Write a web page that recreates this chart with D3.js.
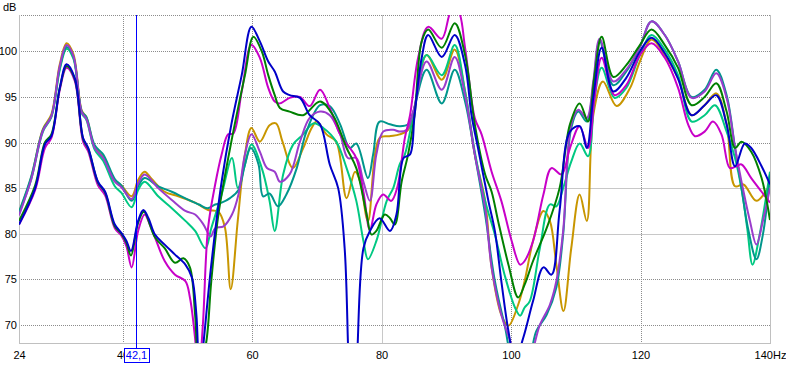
<!DOCTYPE html>
<html>
<head>
<meta charset="utf-8">
<script src="https://cdn.jsdelivr.net/npm/d3@7"></script>
<style>
  body { margin: 0; background: #fff; }
  text { font-family: "Liberation Sans", Arial, sans-serif; font-size: 11px; }
</style>
</head>
<body>
<div id="chart"></div>
<script>
// x ticks (Hz) and y ticks (dB)
const freqTicks = [24, 40, 60, 80, 100, 120, 140];
const dbTicks = [70, 75, 80, 85, 90, 95, 100];
const cursorHz = 42.1;

// measured curves, [Hz, dB]
const gold = [[24,82.3],[25.9,86.2],[27.7,91.5],[29,93.1],[30.3,98.6],[31.35,100.9],[32.4,99.7],[33.7,93.5],[34.4,92.8],[35.7,89.5],[37,88.4],[38.8,85.8],[39.8,85.3],[41.4,84.1],[42.4,85.9],[43.4,86.8],[44.5,86.0],[46.5,84.6],[48.6,84.1],[51.2,83.4],[53.2,82.6],[54.8,82.4],[55.8,80.7],[56.7,73.9],[57.8,81.5],[58.9,88.7],[59.9,91.6],[61.2,90.1],[62.7,91.9],[63.7,92.1],[64.7,90.1],[66.3,87.2],[67.9,89.4],[69.2,91.6],[70,92.3],[71.5,90.9],[73,90.1],[74.6,83.9],[75.9,86.8],[76.7,85.7],[77.9,81.4],[79.7,90.5],[81.2,90.7],[82.8,90.9],[84.1,91.4],[85.1,93.8],[86.95,99.6],[89.3,96.9],[91.3,100.2],[92.9,95.6],[94.4,88.7],[96,83.6],[97,76.3],[98.5,71.1],[99.6,69.9],[101.1,72.2],[102.1,74.8],[103.4,79.2],[105,82.5],[106,81.4],[107,76.6],[108.1,71.5],[109.3,78.4],[110.6,84.3],[111.7,81.4],[112.7,93],[114.2,96.7],[116.3,94],[118.4,96],[119.9,98.9],[121.7,101.3],[123.75,99.6],[125.8,97.1],[127.9,93],[129.9,94.1],[131.7,95.4],[133.3,92],[134.6,85.2],[135.9,85.4],[137.9,83.6],[140,85.4]];

const spring = [[24,82.2],[25.9,86],[27.7,91.2],[29,92.8],[30.3,98],[31.35,100.3],[32.4,99.2],[33.7,93.2],[34.4,92.5],[35.7,89.2],[37,88],[38.8,85.2],[39.8,84.5],[41.4,82.9],[42.4,84.8],[43.4,85.7],[45.5,84.1],[47.6,82.8],[49.7,81.4],[51.2,80.3],[52.8,78.4],[53.7,80.6],[55.3,84.3],[56.9,88.3],[57.8,85],[58.8,87.3],[59.9,89.8],[61.5,87.2],[62.7,83.6],[63.5,80.3],[64.8,86.5],[66.35,89.8],[67.9,90.9],[69.45,92.1],[71,91.6],[73,90.1],[74.6,87.2],[76.1,83.6],[77.2,79.2],[77.9,77.2],[79.2,79.2],[80.8,83.6],[81.8,85],[82.8,87.6],[83.6,88.7],[84.9,93],[86.95,99.6],[89.3,97.4],[91.3,100.7],[92.9,95.6],[94.4,89],[96,83.6],[97.5,79.9],[99,75.5],[100.6,71.9],[101.4,71],[102.1,71.9],[102.9,72.6],[104.45,78.4],[106,83.2],[107,83],[108.05,85],[109.3,87.9],[110.6,89.9],[111.9,88.5],[112.9,94.9],[114,98.2],[116,94.9],[117.8,96],[119.9,99.6],[121.7,101.8],[123.75,100.2],[125.8,97.4],[127.9,92.3],[129.9,93],[131.5,94.1],[133.3,91.2],[134.6,88.3],[135.7,84.5],[136.5,80.5],[137.3,76.6],[138.4,79.9],[140,86.8]];

const teal = [[24,82.4],[25.9,86.3],[27.7,91.4],[29,92.9],[30.3,98.2],[31.35,100.5],[32.4,99.4],[33.7,93.4],[34.4,92.8],[35.7,89.7],[37,88.7],[38.8,86],[39.8,85.3],[41.4,83.6],[42.4,85.2],[43.4,86.1],[45.5,85.2],[47.6,84.6],[50.2,83.7],[51.8,83.2],[53.1,82.8],[54.3,83.2],[55.3,83.4],[56.6,83.9],[57.9,84.8],[58.9,87.6],[59.8,89.4],[61,87.6],[61.7,84.1],[62.7,84.4],[64,83],[65.3,84.3],[66.9,87.2],[68.4,91.2],[70.5,94.1],[72,94],[73.6,92],[75.1,89.4],[76.1,89.9],[77.9,86.1],[78.7,88.7],[79.7,92.3],[81.3,92],[82.8,91.8],[84.1,92],[84.9,93.4],[86.95,98],[89.3,94.3],[91.3,98],[92.9,94.5],[94.4,88.7],[96,82.1],[97.5,74.8],[99,70],[100.5,66],[102.5,66],[103.9,69.3],[105.5,71.1],[107,74.1],[108.05,79.9],[109.3,91.6],[110.4,93.4],[111.7,92.3],[112.7,96.3],[113.7,101.1],[115.8,96.3],[117.8,97.8],[119.9,100.5],[121.7,103.3],[123.75,101.8],[125.8,98.9],[127.9,95],[129.9,95.8],[131.7,98],[133.3,95.2],[134.6,89.4],[135.6,85],[136.6,80.6],[137.9,77.2],[138.9,79.9],[140,86.5]];

const purple = [[24,82],[25.9,86],[27.7,91.3],[29,92.9],[30.3,98.4],[31.35,100.7],[32.4,99.5],[33.7,93.3],[34.4,92.6],[35.7,89.4],[37,88.3],[38.8,85.7],[39.8,85.1],[41.4,83.8],[42.4,85.5],[43.4,86.5],[45.5,85],[47.6,83.7],[49.7,82.5],[51.2,82.1],[52.5,81],[53.6,79.7],[54.3,80.6],[55.6,80.8],[56.9,82.1],[57.9,84.3],[58.9,88.7],[59.9,90.9],[61.2,89],[62.3,87.2],[63.5,86.8],[64.3,85.7],[65.8,86.5],[67.4,90.1],[68.9,92.7],[70.5,93.4],[72,93],[73.6,90.9],[74.8,88.3],[76.1,88.3],[77.2,85.7],[78.2,83.6],[79.2,88.7],[80.25,91.2],[81.8,91.4],[82.8,91.2],[83.9,91.4],[84.9,93.4],[86.95,98.9],[89.3,95.8],[91.3,99.4],[92.9,95.2],[94.4,88.7],[96,82.8],[97,76.3],[98.5,71.1],[99.8,68.4],[101,66],[102.8,66.5],[104.45,70],[106,72.2],[107,74.8],[108.05,80.3],[109.3,92],[110.4,93.6],[111.7,92.7],[112.7,96.7],[113.7,101.4],[115.8,96.7],[117.8,98],[119.9,100.5],[121.7,103.3],[123.75,101.8],[125.8,98.9],[127.9,94.9],[129.9,95.6],[131.7,97.6],[133.3,94.9],[134.6,89.4],[135.6,85.7],[136.9,81.4],[137.9,78.8],[138.9,81.4],[140,85]];

const magenta = [[24,81],[26.5,84.8],[28,89.4],[29,90.5],[30.3,95.8],[31.35,98.2],[32.6,96.8],[33.9,90.1],[34.7,89],[36.2,85.3],[37.3,84.2],[38.8,80.6],[39.8,79.8],[40.6,78.6],[41.4,76.3],[42.4,80.3],[43.4,82.1],[44.2,81],[45,79.6],[46.5,77],[48.1,75.5],[49.7,74.8],[50.4,73],[51.2,68.5],[51.7,64],[52.4,70],[53.2,80.6],[54.3,85.4],[55.3,88.7],[56.3,90.9],[57.1,91],[58.4,95.6],[59.9,100.7],[61.2,99.3],[62.5,96],[63.5,94.5],[64.3,94.3],[65.8,94.9],[67.4,95],[68.9,94],[70.5,95.8],[72,93.8],[73.6,90.9],[75.1,89.4],[76.1,88.3],[77.2,84.6],[78.2,80.4],[79.2,83.2],[80.25,84.3],[81.5,83.6],[82.4,85],[83.6,90.5],[84.4,93],[85.65,99.3],[87.2,102.7],[89.3,101.4],[90.8,104.5],[91.8,104.5],[92.9,100.4],[94.4,92.7],[95.45,90.9],[97,86.8],[98.5,83.6],[100.1,79.2],[101.4,76.6],[102.1,77],[103.4,79.2],[105,84.3],[106.25,87.2],[107.8,86.5],[109.1,89.4],[110.6,91.8],[111.9,89.4],[112.9,94.9],[114,99.3],[116,95.2],[117.8,96.3],[119.9,99.6],[121.7,100.9],[123.75,99.3],[125.8,96],[127.35,92],[128.4,90.7],[129.9,91.2],[131.2,92.3],[132.5,90.9],[133.8,87.2],[134.8,87.4],[135.6,87.6],[137.1,86.1],[138.7,84.6],[140,83.4]];

const green = [[24,81.4],[26.5,85.3],[28,90],[29,90.9],[30.3,96],[31.35,98.4],[32.6,97],[33.9,90.4],[34.7,89.3],[36.2,85.6],[37.3,84.5],[38.8,80.8],[39.8,80],[40.6,79],[41.3,77.6],[42.4,81.2],[43.3,82.4],[45,79.6],[46.5,78.4],[48.1,76.8],[49.4,77.3],[50.4,76.3],[51.2,71.1],[51.8,65],[52.9,68],[53.7,74.8],[54.8,82.1],[56.8,90.1],[58.9,97.4],[60.2,101.6],[61.5,100],[62.5,97.4],[63.5,95.2],[64.3,93.8],[65.8,93.4],[67.9,93],[70.5,94.5],[72.5,93],[74.6,89.4],[76.1,87.2],[77.7,82.1],[78.45,79.9],[79.2,80.3],[80.5,82.1],[81.3,81.7],[82.05,81],[83.1,85.7],[84.1,88.7],[85.1,93],[86.2,101.1],[87.2,102.4],[89.3,100.4],[91.3,103.1],[92.9,99.6],[94.4,92],[96,86.5],[97,84.6],[98,81.4],[99.6,76.6],[101.1,73],[102.1,74.4],[103.4,77],[105.5,80.6],[107.5,85],[109.1,92],[110.6,94.3],[111.9,92.3],[112.9,97.4],[114,101.6],[115.8,97.2],[117.8,98.5],[119.9,100.7],[121.7,102.4],[123.75,100.7],[125.8,98.2],[127.9,94.1],[129.9,95],[131.7,96.5],[133.3,93.4],[134.6,89.4],[135.6,90.1],[137.1,89],[138.7,86.1],[140,81.5]];

const blue = [[24,81],[26.5,85],[28,89.8],[29,90.7],[30.3,96],[31.35,98.6],[32.6,97.1],[33.9,90.5],[34.7,89.4],[36.2,85.7],[37.3,84.6],[38.8,81],[39.8,80.1],[40.6,79.2],[41.3,78.1],[42.4,81.4],[43.2,82.6],[44,81.7],[45,79.9],[46.5,78.8],[48.1,77.7],[49.7,76.6],[50.7,75.2],[51.4,71.1],[51.9,64],[52.5,68],[53.7,76.6],[55.3,85.7],[56.8,92],[58.4,97.4],[59.9,102.7],[61.2,101.1],[62.5,98.9],[63.5,97.8],[64.8,95.6],[65.8,95.2],[67.4,94.9],[68.9,93],[70.5,92],[72,87.6],[73.3,85],[74.3,78.4],[74.9,66],[75.5,56],[76.2,66],[77.2,78.4],[78.2,80.3],[79.7,81.7],[81.3,80.3],[82.3,82.1],[83.4,88.3],[84.4,88.7],[85.1,93],[86.2,99.3],[87.2,101.8],[89.3,99.4],[91.3,101.8],[92.9,98.5],[93.9,93],[94.9,89.4],[96.5,83.6],[97.5,80.3],[98.5,74.8],[99.6,69.3],[100.6,66],[101.9,68.6],[103.4,72.6],[105,76.3],[106.25,75.5],[107.5,82.5],[109.1,91.2],[110.6,91.8],[111.7,89.4],[112.7,94.9],[114,100.4],[115.8,95.6],[117.8,97.1],[119.9,100],[121.7,101.5],[123.75,99.8],[125.8,97],[127.9,93],[129.9,94.1],[131.7,95.2],[133.3,92],[134.6,87.4],[136.1,89.9],[137.1,89.4],[138.7,87.4],[140,85.4]];

const series = [
  { values: gold, color: "#c89600" },
  { values: spring, color: "#00c882" },
  { values: teal, color: "#00968c" },
  { values: purple, color: "#9a3ccc" },
  { values: magenta, color: "#c800c8" },
  { values: green, color: "#008000" },
  { values: blue, color: "#0000c8" }
];

const width = 786, height = 366;
const margin = { top: 15, right: 16, bottom: 23, left: 19 };

const svg = d3.select("#chart").append("svg")
  .attr("width", width)
  .attr("height", height);

const x = d3.scaleLinear().domain([24, 140]).range([margin.left, width - margin.right]);
const y = d3.scaleLinear().domain([68, 104]).range([height - margin.bottom, margin.top]);

const [x0, x1] = x.range();
const [yb, yt] = y.range();

// grid: most lines dotted, a few solid light grey
const solidDb = [80, 85];
const solidHz = [80];
const grid = svg.append("g").attr("shape-rendering", "crispEdges");

grid.selectAll(".hgrid")
  .data(dbTicks.concat([104]))
  .join("line")
    .attr("x1", x0).attr("x2", x1)
    .attr("y1", d => Math.round(y(d)) + 0.5)
    .attr("y2", d => Math.round(y(d)) + 0.5)
    .attr("stroke", d => solidDb.includes(d) ? "#c8c8c8" : "#8c8c8c")
    .attr("stroke-dasharray", d => solidDb.includes(d) ? null : "1,1");

grid.selectAll(".vgrid")
  .data(freqTicks.slice(1, -1))
  .join("line")
    .attr("y1", yt).attr("y2", yb)
    .attr("x1", d => Math.round(x(d)) + 0.5)
    .attr("x2", d => Math.round(x(d)) + 0.5)
    .attr("stroke", d => solidHz.includes(d) ? "#c8c8c8" : "#8c8c8c")
    .attr("stroke-dasharray", d => solidHz.includes(d) ? null : "1,1");

// frame: left, right, bottom
grid.append("path")
  .attr("d", `M${x0 + 0.5},${yt} V${Math.round(yb) + 0.5} H${Math.round(x1) + 0.5} V${yt}`)
  .attr("fill", "none")
  .attr("stroke", "#c0c0c0");

// curves
svg.append("clipPath").attr("id", "plot-clip")
  .append("rect")
    .attr("x", x0).attr("y", yt)
    .attr("width", x1 - x0).attr("height", yb - yt);

const line = d3.line()
  .x(d => x(d[0]))
  .y(d => y(d[1]))
  .curve(d3.curveCatmullRom.alpha(0.5));

svg.append("g")
  .attr("clip-path", "url(#plot-clip)")
  .selectAll("path")
  .data(series)
  .join("path")
    .attr("d", d => line(d.values))
    .attr("fill", "none")
    .attr("stroke", d => d.color)
    .attr("stroke-width", 2)
    .attr("stroke-linejoin", "round");

// axes
const xAxis = d3.axisBottom(x)
  .tickValues(freqTicks)
  .tickSize(0)
  .tickPadding(8)
  .tickFormat(d => d === 140 ? "140Hz" : d);

svg.append("g")
  .attr("transform", `translate(0,${yb})`)
  .call(xAxis)
  .call(g => g.select(".domain").remove())
  .selectAll("text")
    .attr("fill", "#000")
    .style("font-size", "11px")
    .style("font-family", "'Liberation Sans', Arial, sans-serif");

const yAxis = d3.axisLeft(y)
  .tickValues(dbTicks)
  .tickSize(0)
  .tickPadding(2);

svg.append("g")
  .attr("transform", `translate(${x0},0)`)
  .call(yAxis)
  .call(g => g.select(".domain").remove())
  .selectAll("text")
    .attr("fill", "#000")
    .style("font-size", "11px")
    .style("font-family", "'Liberation Sans', Arial, sans-serif");

svg.append("text")
  .attr("x", 3)
  .attr("y", 11)
  .text("dB");

// cursor
const cx = Math.round(x(cursorHz)) + 0.5;
const boxW = 25, boxH = 14, boxTop = yb + 5;

svg.append("line")
  .attr("x1", cx).attr("x2", cx)
  .attr("y1", yt).attr("y2", boxTop)
  .attr("stroke", "#0000ff")
  .attr("stroke-width", 1);

svg.append("rect")
  .attr("x", Math.round(cx - boxW / 2) + 0.5)
  .attr("y", Math.round(boxTop) + 0.5)
  .attr("width", boxW)
  .attr("height", boxH)
  .attr("fill", "#fff")
  .attr("stroke", "#0000ff");

svg.append("text")
  .attr("x", cx)
  .attr("y", boxTop + 11)
  .attr("text-anchor", "middle")
  .attr("fill", "#0000ff")
  .text(cursorHz.toString().replace(".", ","));
</script>
</body>
</html>
